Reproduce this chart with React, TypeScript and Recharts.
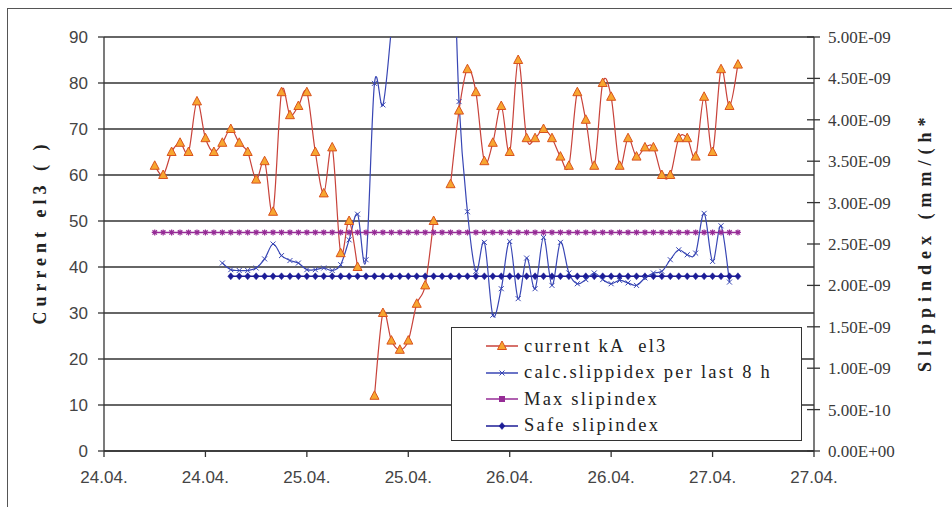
import React from 'react';
import { LineChart, Line, XAxis, YAxis, CartesianGrid, Legend } from 'recharts';

// hours after 24.04. 00:00, one reading per hour
const hours = [
  6, 7, 8, 9, 10, 11, 12, 13, 14, 15,
  16, 17, 18, 19, 20, 21, 22, 23, 24, 25,
  26, 27, 28, 29, 30, 31, 32, 33, 34, 35,
  36, 37, 38, 39, 40, 41, 42, 43, 44, 45,
  46, 47, 48, 49, 50, 51, 52, 53, 54, 55,
  56, 57, 58, 59, 60, 61, 62, 63, 64, 65,
  66, 67, 68, 69, 70, 71, 72, 73, 74, 75,
];

const currentKA = [
  62, 60, 65, 67, 65, 76, 68, 65, 67, 70,
  67, 65, 59, 63, 52, 78, 73, 75, 78, 65,
  56, 66, 43, 50, 40, null, 12, 30, 24, 22,
  24, 32, 36, 50, null, 58, 74, 83, 78, 63,
  67, 75, 65, 85, 68, 68, 70, 68, 64, 62,
  78, 72, 62, 80, 77, 62, 68, 64, 66, 66,
  60, 60, 68, 68, 64, 77, 65, 83, 75, 84,
];

// slip index values in units of 1E-09
const calcSlip = [
  null, null, null, null, null, null, null, null, 2.27, 2.19,
  2.18, 2.18, 2.21, 2.32, 2.5, 2.36, 2.3, 2.27, 2.19, 2.19,
  2.21, 2.18, 2.25, 2.55, 2.86, 2.31, 4.44, 4.18, 5.1, 6.2,
  6.8, 7.2, 7.4, 7.3, 7.2, 7.1, 4.22, 2.89, 2.17, 2.52,
  1.64, 1.96, 2.53, 1.84, 2.33, 1.96, 2.58, 2.0, 2.52, 2.15,
  2.02, 2.07, 2.15, 2.07, 2.02, 2.06, 2.03, 2.0, 2.09, 2.15,
  2.17, 2.31, 2.43, 2.37, 2.39, 2.87, 2.29, 2.72, 2.04, null,
];

const maxSlip = [
  2.64, 2.64, 2.64, 2.64, 2.64, 2.64, 2.64, 2.64, 2.64, 2.64,
  2.64, 2.64, 2.64, 2.64, 2.64, 2.64, 2.64, 2.64, 2.64, 2.64,
  2.64, 2.64, 2.64, 2.64, 2.64, 2.64, 2.64, 2.64, 2.64, 2.64,
  2.64, 2.64, 2.64, 2.64, 2.64, 2.64, 2.64, 2.64, 2.64, 2.64,
  2.64, 2.64, 2.64, 2.64, 2.64, 2.64, 2.64, 2.64, 2.64, 2.64,
  2.64, 2.64, 2.64, 2.64, 2.64, 2.64, 2.64, 2.64, 2.64, 2.64,
  2.64, 2.64, 2.64, 2.64, 2.64, 2.64, 2.64, 2.64, 2.64, 2.64,
];

const safeSlip = [
  null, null, null, null, null, null, null, null, null, 2.11,
  2.11, 2.11, 2.11, 2.11, 2.11, 2.11, 2.11, 2.11, 2.11, 2.11,
  2.11, 2.11, 2.11, 2.11, 2.11, 2.11, 2.11, 2.11, 2.11, 2.11,
  2.11, 2.11, 2.11, 2.11, 2.11, 2.11, 2.11, 2.11, 2.11, 2.11,
  2.11, 2.11, 2.11, 2.11, 2.11, 2.11, 2.11, 2.11, 2.11, 2.11,
  2.11, 2.11, 2.11, 2.11, 2.11, 2.11, 2.11, 2.11, 2.11, 2.11,
  2.11, 2.11, 2.11, 2.11, 2.11, 2.11, 2.11, 2.11, 2.11, 2.11,
];

const xTicks = [0, 12, 24, 36, 48, 60, 72, 84];
const xLabels = ['24.04.', '24.04.', '25.04.', '25.04.', '26.04.', '26.04.', '27.04.', '27.04.'];
const leftTicks = [0, 10, 20, 30, 40, 50, 60, 70, 80, 90];
const rightTicks = [0, 0.5, 1, 1.5, 2, 2.5, 3, 3.5, 4, 4.5, 5];
const rightLabels = [
  '0.00E+00', '5.00E-10', '1.00E-09', '1.50E-09', '2.00E-09', '2.50E-09',
  '3.00E-09', '3.50E-09', '4.00E-09', '4.50E-09', '5.00E-09',
];
const seriesNames = ['current kA  el3', 'calc.slippidex per last 8 h', 'Max slipindex', 'Safe slipindex'];

const data = hours.map((h, i) => ({
  h,
  current: currentKA[i],
  calc: calcSlip[i],
  max: maxSlip[i],
  safe: safeSlip[i],
}));

const PLOT_RIGHT = 814;
const SERIF = '"Liberation Serif", "DejaVu Serif", serif';
const SANS = '"Liberation Sans", Arial, sans-serif';

// Excel-like smoothed line (Catmull-Rom through the points)
const excelSmooth = (context: any) => {
  let pts: number[][] = [];
  return {
    areaStart() {},
    areaEnd() {},
    lineStart() {
      pts = [];
    },
    point(x: number, y: number) {
      pts.push([+x, +y]);
    },
    lineEnd() {
      if (!pts.length) return;
      context.moveTo(pts[0][0], pts[0][1]);
      for (let i = 0; i < pts.length - 1; i++) {
        const p0 = pts[Math.max(i - 1, 0)];
        const p1 = pts[i];
        const p2 = pts[i + 1];
        const p3 = pts[Math.min(i + 2, pts.length - 1)];
        context.bezierCurveTo(
          p1[0] + (p2[0] - p0[0]) / 6, p1[1] + (p2[1] - p0[1]) / 6,
          p2[0] - (p3[0] - p1[0]) / 6, p2[1] - (p3[1] - p1[1]) / 6,
          p2[0], p2[1],
        );
      }
    },
  };
};

const noPoint = (p: any) => p.cx == null || p.cy == null || isNaN(p.cy);

const TriangleDot = (p: any) => {
  const { cx, cy, index } = p;
  if (noPoint(p)) return <g key={`tri-${index}`} />;
  return (
    <path key={`tri-${index}`} d={`M${cx},${cy - 5}L${cx + 4.5},${cy + 3.5}L${cx - 4.5},${cy + 3.5}Z`}
      fill="#F7A630" stroke="#D9531E" strokeWidth={1} />
  );
};

const CrossDot = (p: any) => {
  const { cx, cy, index } = p;
  if (noPoint(p)) return <g key={`x-${index}`} />;
  return (
    <path key={`x-${index}`} d={`M${cx - 2.5},${cy - 2.5}L${cx + 2.5},${cy + 2.5}M${cx - 2.5},${cy + 2.5}L${cx + 2.5},${cy - 2.5}`}
      stroke="#3846B4" strokeWidth={1} fill="none" />
  );
};

const StarDot = (p: any) => {
  const { cx, cy, index } = p;
  if (noPoint(p)) return <g key={`s-${index}`} />;
  return (
    <path key={`s-${index}`}
      d={`M${cx},${cy - 3}L${cx},${cy + 3}M${cx - 3},${cy}L${cx + 3},${cy}M${cx - 2.2},${cy - 2.2}L${cx + 2.2},${cy + 2.2}M${cx - 2.2},${cy + 2.2}L${cx + 2.2},${cy - 2.2}`}
      stroke="#962C96" strokeWidth={1.2} fill="none" />
  );
};

const SquareDot = (p: any) => {
  const { cx, cy, index } = p;
  return <rect key={`q-${index}`} x={cx - 3} y={cy - 3} width={6} height={6} fill="#962C96" />;
};

const DiamondDot = (p: any) => {
  const { cx, cy, index } = p;
  if (noPoint(p)) return <g key={`d-${index}`} />;
  return (
    <path key={`d-${index}`} d={`M${cx},${cy - 3.5}L${cx + 3},${cy}L${cx},${cy + 3.5}L${cx - 3},${cy}Z`}
      fill="#1C1C96" stroke="#1C1C96" strokeWidth={0.5} />
  );
};

const RightTick = (p: any) => {
  const { y, index } = p;
  return (
    <g>
      <line x1={PLOT_RIGHT - 7} x2={PLOT_RIGHT + 6} y1={y} y2={y} stroke="#333" strokeWidth={1.3} />
      <text x={PLOT_RIGHT + 14} y={y} dy={6} fontFamily={SERIF} fontSize={17} fill="#3a3a3a">
        {rightLabels[index]}
      </text>
    </g>
  );
};

const legendSamples = [
  { color: '#C8423A', Dot: TriangleDot },
  { color: '#3846B4', Dot: CrossDot },
  { color: '#962C96', Dot: SquareDot },
  { color: '#1C1C96', Dot: DiamondDot },
];

const LegendBox = () => (
  <div style={{
    boxSizing: 'border-box', width: 351, height: 114, border: '1.5px solid #333',
    background: '#fff', paddingTop: 5, paddingLeft: 33,
  }}>
    {seriesNames.map((name, i) => {
      const { color, Dot } = legendSamples[i];
      return (
        <div key={name} style={{ display: 'flex', alignItems: 'center', height: 26.5 }}>
          <svg width={34} height={14} style={{ flex: 'none' }}>
            <line x1={1} x2={33} y1={7} y2={7} stroke={color} strokeWidth={1.5} />
            {Dot({ cx: 17, cy: 7, index: i })}
          </svg>
          <span style={{
            marginLeft: 5, fontFamily: SERIF, fontSize: 18.5, letterSpacing: 2.2,
            color: '#222', whiteSpace: 'pre',
          }}>{name}</span>
        </div>
      );
    })}
  </div>
);

export default function App() {
  return (
    <div style={{ position: 'absolute', left: 0, top: 0, width: 952, height: 507, overflow: 'hidden', background: '#fff' }}>
      <div style={{
        position: 'absolute', left: 7, top: 8, width: 980, height: 540,
        border: '1.5px solid #555', boxSizing: 'border-box',
      }} />
      <div style={{ position: 'absolute', left: 0, top: 0 }}>
        <LineChart width={952} height={507} data={data} margin={{ top: 37, right: 0, bottom: 0, left: 0 }}>
          <CartesianGrid yAxisId="left" vertical={false} stroke="#333" strokeWidth={1.3} />
          <XAxis dataKey="h" type="number" domain={[0, 84]} ticks={xTicks} height={56}
            tickFormatter={(v: number, i: number) => xLabels[i]}
            tickSize={6} tickMargin={14} interval={0}
            axisLine={{ stroke: '#333', strokeWidth: 1.3 }} tickLine={{ stroke: '#333', strokeWidth: 1.3 }}
            tick={{ fontFamily: SANS, fontSize: 17, fill: '#444' }} />
          <YAxis yAxisId="left" domain={[0, 90]} ticks={leftTicks} width={104} interval={0}
            tickSize={6} tickMargin={10}
            axisLine={{ stroke: '#333', strokeWidth: 1.3 }} tickLine={{ stroke: '#333', strokeWidth: 1.3 }}
            tick={{ fontFamily: SANS, fontSize: 17, fill: '#444' }}
            label={{
              content: () => (
                <text x={40} y={232} transform="rotate(-90 40 232)" textAnchor="middle" dominantBaseline="central"
                  fontFamily={SERIF} fontWeight="bold" fontSize={18} letterSpacing={5} fill="#222">
                  Current el3 ( )
                </text>
              ),
            }} />
          <YAxis yAxisId="right" orientation="right" domain={[0, 5]} ticks={rightTicks} width={138}
            allowDataOverflow interval={0} tickLine={false} tick={<RightTick />}
            axisLine={{ stroke: '#333', strokeWidth: 1.3 }}
            label={{
              content: () => (
                <text x={925} y={372} transform="rotate(-90 925 372)" textAnchor="start" dominantBaseline="central"
                  fontFamily={SERIF} fontWeight="bold" fontSize={18} letterSpacing={6} fill="#222">
                  Slippindex (mm/(h*
                </text>
              ),
            }} />
          <Legend layout="vertical" verticalAlign="middle" align="center"
            wrapperStyle={{ left: 451, top: 327, width: 351, height: 114 }} content={<LegendBox />} />
          <Line yAxisId="right" dataKey="max" stroke="#962C96" strokeWidth={1.5} type="linear"
            dot={StarDot} activeDot={false} isAnimationActive={false} legendType="none" />
          <Line yAxisId="right" dataKey="safe" stroke="#1C1C96" strokeWidth={1.5} type="linear"
            dot={DiamondDot} activeDot={false} isAnimationActive={false} legendType="none" />
          <Line yAxisId="right" dataKey="calc" stroke="#3846B4" strokeWidth={1.2} type={excelSmooth as any}
            dot={CrossDot} activeDot={false} isAnimationActive={false} legendType="none" />
          <Line yAxisId="left" dataKey="current" stroke="#C8423A" strokeWidth={1.2} type={excelSmooth as any}
            dot={TriangleDot} activeDot={false} isAnimationActive={false} legendType="none" />
        </LineChart>
      </div>
    </div>
  );
}
